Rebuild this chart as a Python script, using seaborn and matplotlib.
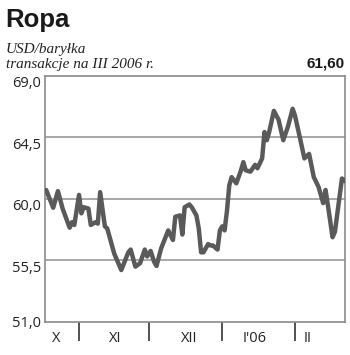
import numpy as np
import pandas as pd
import matplotlib
matplotlib.use("Agg")
import matplotlib.pyplot as plt
import matplotlib.transforms as mtransforms
import seaborn as sns

# ---- data (day number counted from 1 Oct 2005 -> price USD/barrel) ----
days = [17, 20, 22, 24, 27, 28, 29, 31, 32, 33, 35, 36, 38, 39, 40, 42, 43, 46,
        49, 52, 53, 55, 57, 59, 60, 61.5, 63, 64, 66, 69, 71, 72, 74, 75, 76, 78,
        79, 81, 82, 83, 84, 86, 87, 88, 90, 91, 92, 93, 94, 95, 96, 98, 100, 101,
        102, 104, 106, 107, 109, 110, 111, 112, 114, 116, 118, 120, 122, 123, 125,
        127, 129, 131, 133, 135, 136, 137, 139, 140, 143, 144.3]
price = [60.66, 59.36, 60.58, 59.3, 57.9, 58.3, 58.1, 60.3, 58.95, 59.4, 59.3,
         58.1, 58.3, 58.2, 60.5, 58.0, 57.85, 56.0, 54.8, 56.1, 56.3, 55.05, 55.3,
         56.3, 55.8, 56.2, 55.4, 55.1, 56.4, 57.7, 57.0, 58.7, 58.8, 57.4, 59.4,
         59.6, 59.4, 58.8, 57.85, 56.1, 56.1, 56.7, 56.6, 56.6, 56.3, 57.7, 58.0,
         57.7, 59.1, 61.0, 61.6, 61.15, 62.1, 62.7, 62.1, 62.0, 62.5, 62.25, 62.97,
         64.9, 64.3, 64.9, 66.45, 65.8, 64.3, 65.3, 66.6, 66.1, 64.55, 62.97, 63.3,
         61.6, 60.9, 59.7, 60.66, 59.56, 57.2, 57.6, 61.5, 61.3]
month_bounds = [31, 61, 92, 123]
month_labels = ["X", "XI", "XII", "I'06", "II"]
month_label_days = [21.2, 46.3, 77.8, 106.0, 128.5]
y_ticks = [51.0, 55.5, 60.0, 64.5, 69.0]
y_tick_labels = ["51,0", "55,5", "60,0", "64,5", "69,0"]
title = "Ropa"
unit = "USD/baryłka"
subtitle = "transakcje na III 2006 r."
last_value = "61,60"

df = pd.DataFrame({"day": days, "price": price})

sns.set_style("white")
plt.rcParams["font.family"] = ["Open Sans", "DejaVu Sans"]

fig = plt.figure(figsize=(3.5, 3.55), dpi=100)
ax = fig.add_axes([45 / 350, 1 - 322 / 355, 300 / 350, (322 - 76) / 355])

for yv in y_ticks[1:-1]:
    ax.axhline(yv, color="#9a9a9a", lw=1.2, zorder=1)

sns.lineplot(data=df, x="day", y="price", ax=ax, color="#5a5a5a", lw=3.2,
             zorder=3, solid_joinstyle="round")

ax.set_xlim(16.5, 144.3)
ax.set_ylim(51, 69)
ax.set_xlabel("")
ax.set_ylabel("")

ax.set_yticks(y_ticks)
ax.set_yticklabels(y_tick_labels, fontsize=10.5, color="#222222")
ax.tick_params(axis="y", left=False, length=0, pad=3)
for lbl, yv in zip(ax.get_yticklabels(), y_ticks):
    if yv > 51.0:
        lbl.set_transform(lbl.get_transform() +
                          mtransforms.ScaledTranslation(0, -4 / 72, fig.dpi_scale_trans))

ax.set_xticks(month_bounds)
ax.set_xticklabels([])
ax.tick_params(axis="x", bottom=True, length=13.5, width=1.3, color="#444444",
               direction="out")

trans = mtransforms.blended_transform_factory(ax.transData, ax.transAxes)
for d, lab in zip(month_label_days, month_labels):
    ax.text(d, -0.069, lab, transform=trans, ha="center", va="center",
            fontsize=10.5, color="#222222")

for s in ax.spines.values():
    s.set_visible(True)
    s.set_color("#8a8a8a")
    s.set_linewidth(1.2)

fig.text(5 / 350, 1 - 27 / 355, title, fontsize=18.5, fontweight="bold",
         family=["Liberation Sans", "DejaVu Sans"], color="#1a1a1a",
         va="baseline", ha="left")
fig.text(6 / 350, 1 - 53 / 355, unit, fontsize=11, style="italic",
         family=["Liberation Serif", "DejaVu Serif"], color="#222222",
         va="baseline", ha="left")
fig.text(6 / 350, 1 - 68 / 355, subtitle, fontsize=11, style="italic",
         family=["Liberation Serif", "DejaVu Serif"], color="#222222",
         va="baseline", ha="left")
fig.text(345 / 350, 1 - 68 / 355, last_value, fontsize=11, fontweight="bold",
         family=["Liberation Sans", "DejaVu Sans"], color="#1a1a1a",
         va="baseline", ha="right")

fig.savefig("out.png", dpi=100)
